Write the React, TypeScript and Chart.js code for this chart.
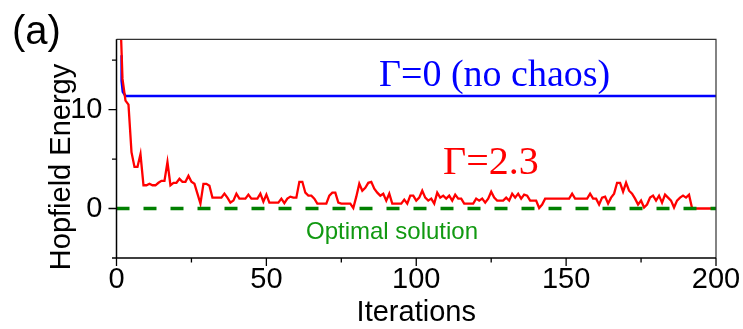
import React, { useEffect, useRef } from "react";
import { Chart, registerables } from "chart.js";

Chart.register(...registerables);

// Red series: Γ = 2.3, energy for iterations 1..200
const redEnergy = [
  22, 13.1, 10.9, 10.5, 5.7, 4.2, 4.2, 5.5, 2.35, 2.35,
  2.5, 2.35, 2.35, 2.6, 2.8, 2.8, 4.7, 2.35, 2.6, 2.6,
  3.0, 2.7, 2.7, 3.3, 2.7, 2.5, 1.5, 0.5, 2.5, 2.5,
  2.3, 1.1, 1.1, 1.1, 1.1, 1.5, 1.1, 0.6, 0.8, 1.5,
  1.0, 1.0, 1.0, 1.4, 1.0, 1.0, 1.0, 1.5, 0.7, 1.4,
  0.6, 0.6, 0.6, 0.6, 1.0, 0.55, 1.0, 1.2, 1.1, 1.1,
  2.7, 2.7, 1.6, 1.3, 1.3, 1.0, 0.5, 0.5, 0.5, 0.5,
  1.3, 1.6, 1.6, 0.6, 0.5, 0.5, 0.5, 0.5, 0.05, 1.2,
  2.5, 1.8, 2.1, 2.6, 2.7, 2.0, 1.6, 1.3, 1.5, 0.8,
  1.5, 0.5, 0.5, 0.5, 0.5, 0.9, 0.5, 1.3, 1.3, 0.8,
  1.1, 1.8, 1.1, 0.8, 1.0, 0.5, 1.6, 1.1, 1.3, 1.0,
  1.3, 0.8, 1.4, 1.0, 1.0, 0.5, 0.5, 0.5, 0.5, 1.0,
  0.8, 1.0, 0.6, 1.0, 1.7, 1.1, 0.8, 0.8, 0.8, 1.1,
  0.8, 1.5, 1.1, 1.5, 1.0, 1.4, 1.3, 0.8, 0.8, 0.8,
  0.05, 0.4, 1.0, 1.0, 1.0, 1.0, 1.0, 1.0, 1.0, 1.0,
  1.0, 1.5, 1.0, 1.0, 1.0, 1.0, 1.0, 1.5, 1.0, 1.0,
  0.4, 1.1, 1.2, 0.5, 1.1, 1.5, 2.6, 2.6, 1.7, 2.6,
  1.8, 1.5, 1.0, 0.4, 0.8, 0.1, 0.4, 1.1, 1.3, 0.8,
  1.3, 0.6, 1.4, 1.1, 0.8, 0.1, 0.8, 1.1, 1.3, 1.1,
  1.4, 0.05, 0, 0, 0, 0, 0, 0, 0, 0,
];
const redFirstIteration = 1;

// Blue series: Γ = 0 (no chaos)
const blueIter = [1.7, 1.7, 2.1, 3, 200];
const blueEnergy = [15.5, 12.9, 11.8, 11.37, 11.37];

// Green dashed: optimal solution
const optimalIter = [0, 200];
const optimalEnergy = [0, 0];

// Axes
const xMin = 0;
const xMax = 200;
const yMin = -5;
const yMax = 17.1;
const xTicks = [0, 50, 100, 150, 200];
const xMinorTicks = [25, 75, 125, 175];
const yTicks = [0, 10];
const yMinorTicks = [-5, 5, 15];

const SANS = "'Liberation Sans', Arial, sans-serif";
const SERIF = "'Liberation Serif', 'Times New Roman', serif";

const framePlugin = {
  id: "frame",
  afterDraw(chart: any) {
    const { ctx, chartArea: a, scales } = chart;
    const xs = scales.x;
    const ys = scales.y;
    ctx.save();
    // box
    ctx.strokeStyle = "#333";
    ctx.lineWidth = 1.2;
    ctx.beginPath();
    ctx.moveTo(a.left, a.top);
    ctx.lineTo(a.right, a.top);
    ctx.lineTo(a.right, a.bottom);
    ctx.stroke();
    ctx.strokeStyle = "#000";
    ctx.lineWidth = 1.5;
    ctx.beginPath();
    ctx.moveTo(a.left, a.top);
    ctx.lineTo(a.left, a.bottom);
    ctx.lineTo(a.right, a.bottom);
    ctx.stroke();
    // ticks
    ctx.lineWidth = 1.3;
    ctx.beginPath();
    xTicks.forEach((v) => {
      const p = xs.getPixelForValue(v);
      ctx.moveTo(p, a.bottom);
      ctx.lineTo(p, a.bottom + 8);
    });
    xMinorTicks.forEach((v) => {
      const p = xs.getPixelForValue(v);
      ctx.moveTo(p, a.bottom);
      ctx.lineTo(p, a.bottom + 4.5);
    });
    yTicks.forEach((v) => {
      const p = ys.getPixelForValue(v);
      ctx.moveTo(a.left, p);
      ctx.lineTo(a.left - 8, p);
    });
    yMinorTicks.forEach((v) => {
      const p = ys.getPixelForValue(v);
      ctx.moveTo(a.left, p);
      ctx.lineTo(a.left - 4.5, p);
    });
    ctx.stroke();

    // texts
    ctx.fillStyle = "#000";
    ctx.textAlign = "left";
    ctx.textBaseline = "alphabetic";
    ctx.font = `40px ${SANS}`;
    ctx.fillText("(a)", 12, 44);

    ctx.font = `29px ${SANS}`;
    ctx.textAlign = "center";
    ctx.fillText("Iterations", (a.left + a.right) / 2, 321);

    ctx.save();
    ctx.translate(70, 167);
    ctx.rotate(-Math.PI / 2);
    ctx.fillText("Hopfield Energy", 0, 0);
    ctx.restore();

    ctx.textAlign = "left";
    ctx.fillStyle = "#0000ff";
    ctx.font = `38px ${SERIF}`;
    ctx.fillText("\u0393=0 (no chaos)", 379, 86);

    ctx.fillStyle = "#ff0000";
    ctx.font = `40px ${SERIF}`;
    ctx.fillText("\u0393=2.3", 443, 174);

    ctx.fillStyle = "#119911";
    ctx.font = `24px ${SANS}`;
    ctx.textAlign = "center";
    ctx.fillText("Optimal solution", 392, 239);
    ctx.restore();
  },
};

export default function App() {
  const ref = useRef<HTMLCanvasElement | null>(null);
  useEffect(() => {
    if (!ref.current) return;
    const redPts = redEnergy.map((v, i) => ({ x: i + redFirstIteration, y: v }));
    const bluePts = blueIter.map((x, i) => ({ x, y: blueEnergy[i] }));
    const optPts = optimalIter.map((x, i) => ({ x, y: optimalEnergy[i] }));
    const chart = new Chart(ref.current, {
      type: "line",
      data: {
        datasets: [
          {
            label: "Optimal solution",
            data: optPts,
            borderColor: "#008000",
            borderWidth: 3.5,
            borderDash: [13, 14],
            pointRadius: 0,
            tension: 0,
          },
          {
            label: "Γ=2.3",
            data: redPts,
            borderColor: "#ff0000",
            borderWidth: 2.3,
            pointRadius: 0,
            tension: 0,
          },
          {
            label: "Γ=0 (no chaos)",
            data: bluePts,
            borderColor: "#0000ff",
            borderWidth: 2.5,
            pointRadius: 0,
            tension: 0,
          },
        ],
      },
      options: {
        animation: false,
        responsive: true,
        maintainAspectRatio: false,
        devicePixelRatio: 1,
        layout: { padding: { left: 56.5, right: 27, top: 39.3, bottom: 0 } },
        plugins: { legend: { display: false }, tooltip: { enabled: false } },
        scales: {
          x: {
            type: "linear",
            min: xMin,
            max: xMax,
            grid: { display: false },
            border: { display: false },
            afterFit: (s: any) => {
              s.height = 71;
            },
            afterBuildTicks: (s: any) => {
              s.ticks = xTicks.map((v) => ({ value: v }));
            },
            ticks: {
              autoSkip: false,
              maxRotation: 0,
              padding: -3,
              color: "#000",
              font: { family: SANS, size: 29 },
              callback: (v: any) => String(v),
            },
          },
          y: {
            type: "linear",
            min: yMin,
            max: yMax,
            grid: { display: false },
            border: { display: false },
            afterFit: (s: any) => {
              s.width = 60;
            },
            afterBuildTicks: (s: any) => {
              s.ticks = yTicks.map((v) => ({ value: v }));
            },
            ticks: {
              autoSkip: false,
              padding: 6,
              color: "#000",
              font: { family: SANS, size: 29 },
              callback: (v: any) => String(v),
            },
          },
        },
      },
      plugins: [framePlugin],
    });
    return () => chart.destroy();
  }, []);
  return (
    <div style={{ position: "fixed", left: 0, top: 0, width: 743, height: 329, background: "#fff" }}>
      <canvas ref={ref} />
    </div>
  );
}
